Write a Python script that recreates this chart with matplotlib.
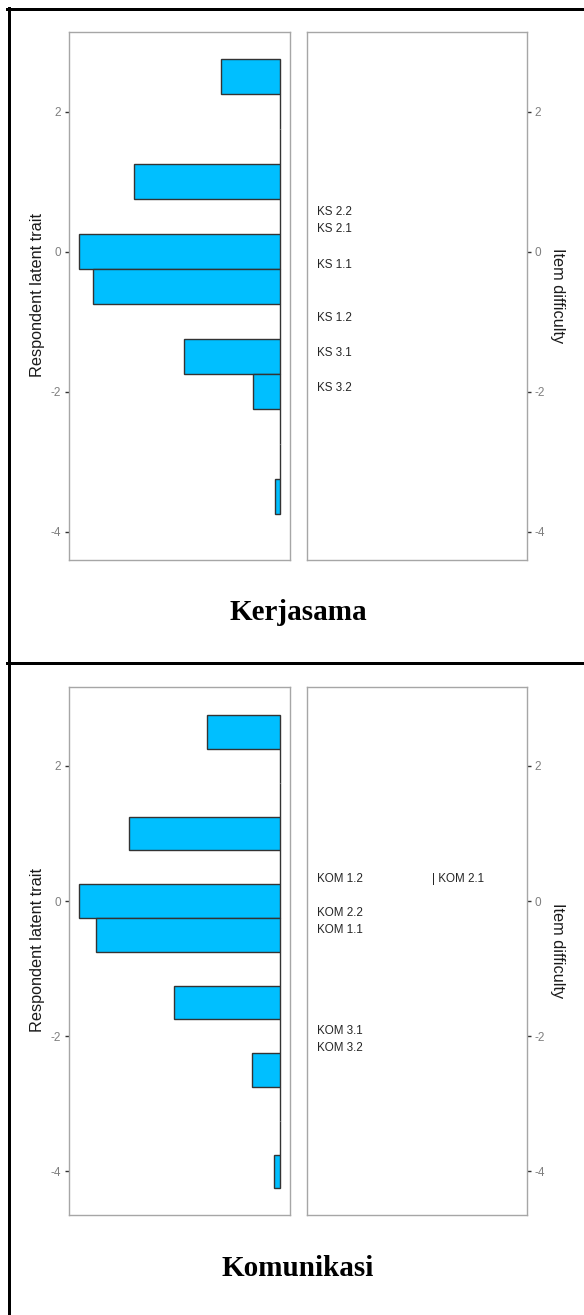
import matplotlib
matplotlib.use("Agg")
import matplotlib.pyplot as plt
from matplotlib.lines import Line2D

plt.rcParams['axes.unicode_minus'] = False
plt.rcParams['font.family'] = ['Liberation Sans', 'DejaVu Sans']

W, H = 584, 1315

# respondent histogram bins (centres, width 0.5) and counts
ks_bins = [2.5, 2.0, 1.5, 1.0, 0.5, 0.0, -0.5, -1.0, -1.5, -2.0, -2.5, -3.0, -3.5]
ks_counts = [13, 0, 0, 32, 0, 44, 41, 0, 21, 6, 0, 0, 1]
kom_bins = [2.5, 2.0, 1.5, 1.0, 0.5, 0.0, -0.5, -1.0, -1.5, -2.0, -2.5, -3.0, -3.5, -4.0]
kom_counts = [13, 0, 0, 27, 0, 36, 33, 0, 19, 0, 5, 0, 0, 1]

# item difficulties
ks_items = ['KS 2.2', 'KS 2.1', 'KS 1.1', 'KS 1.2', 'KS 3.1', 'KS 3.2']
ks_diff = [0.57, 0.32, -0.19, -0.94, -1.45, -1.95]
kom_items = ['KOM 1.2', 'KOM 2.2', 'KOM 1.1', 'KOM 3.1', 'KOM 3.2']
kom_diff = [0.33, -0.17, -0.43, -1.92, -2.18]
kom_extra = ['| KOM 2.1']
kom_extra_diff = [0.33]

yticks = [2, 0, -2, -4]


def px_rect(x0, y0, x1, y1):
    return [x0 / W, 1 - y1 / H, (x1 - x0) / W, (y1 - y0) / H]


def style_box(ax):
    for s in ax.spines.values():
        s.set_color('#a6a6a6')
        s.set_linewidth(1.0)
    ax.set_xticks([])
    ax.set_yticks(yticks)
    ax.tick_params(axis='y', length=3, width=1, color='#333333',
                   labelcolor='#7f7f7f', labelsize=8.5, pad=2.5)


def wright_panel(top, bins, counts, items, diffs, ylim, extra=None, extra_diff=None):
    bottom = top + 528
    axl = fig.add_axes(px_rect(69, top, 290, bottom))
    axr = fig.add_axes(px_rect(307, top, 527, bottom))
    for ax in (axl, axr):
        style_box(ax)
        ax.set_ylim(*ylim)

    m = max(counts)
    axl.barh(bins, counts, height=0.5, color='#00bfff', edgecolor='#333333', linewidth=1)
    axl.set_xlim(1.05 * m, -0.05 * m)

    axr.set_xlim(0, 1)
    axr.yaxis.tick_right()
    for name, d in zip(items, diffs):
        axr.text(0.045, d, name, fontsize=8.4, color='#262626', va='center', ha='left')
    if extra:
        for name, d in zip(extra, extra_diff):
            axr.text(0.568, d, name, fontsize=8.4, color='#262626', va='center', ha='left')

    mid = (top + bottom) / 2
    fig.text(38 / W, 1 - (mid - 1) / H, 'Respondent latent trait', rotation=90,
             ha='center', va='center', fontsize=11.7, color='#1a1a1a')
    fig.text(558 / W, 1 - mid / H, 'Item difficulty', rotation=270,
             ha='center', va='center', fontsize=11.7, color='#1a1a1a')


fig = plt.figure(figsize=(W / 100, H / 100), dpi=100)

wright_panel(32, ks_bins, ks_counts, ks_items, ks_diff, (-4.4, 3.14))
wright_panel(687, kom_bins, kom_counts, kom_items, kom_diff, (-4.645, 3.166),
             kom_extra, kom_extra_diff)

fig.text(298 / W, 1 - 612 / H, 'Kerjasama', family='Liberation Serif',
         weight='bold', fontsize=21, ha='center', va='center')
fig.text(298 / W, 1 - 1268 / H, 'Komunikasi', family='Liberation Serif',
         weight='bold', fontsize=21, ha='center', va='center')

# table borders
lw = 3 * 72 / 100
fig.add_artist(Line2D([8.5 / W, 8.5 / W], [1 - 7.5 / H, 0], color='black', lw=lw))
fig.add_artist(Line2D([7 / W, 1], [1 - 9 / H, 1 - 9 / H], color='black', lw=lw))
fig.add_artist(Line2D([7 / W, 1], [1 - 662.5 / H, 1 - 662.5 / H], color='black', lw=lw))

fig.savefig('out.png', dpi=100)
